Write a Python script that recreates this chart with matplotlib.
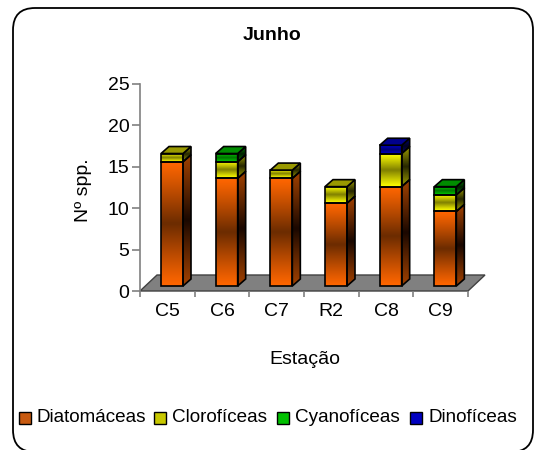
import matplotlib.pyplot as plt
import numpy as np
from matplotlib.patches import Polygon, Rectangle, FancyBboxPatch

plt.rcParams['font.family'] = ['Liberation Sans', 'DejaVu Sans']

estacoes = ['C5', 'C6', 'C7', 'R2', 'C8', 'C9']
grupos = ['Diatomáceas', 'Clorofíceas', 'Cyanofíceas', 'Dinofíceas']
diatomaceas = [15, 13, 13, 10, 12, 9]
cloroficeas = [1, 2, 1, 2, 4, 2]
cyanoficeas = [0, 1, 0, 0, 0, 1]
dinoficeas = [0, 0, 0, 0, 1, 0]
series = [diatomaceas, cloroficeas, cyanoficeas, dinoficeas]

# (claro, escuro) da face frontal, (claro, escuro) da lateral, cor do topo
cores = [
    ((1.0, 0.40, 0.0), (0.42, 0.17, 0.0), (0.62, 0.25, 0.0), (0.10, 0.03, 0.0), (0.55, 0.22, 0.0)),
    ((1.0, 1.0, 0.0), (0.50, 0.50, 0.0), (0.60, 0.60, 0.0), (0.15, 0.15, 0.0), (0.60, 0.60, 0.0)),
    ((0.0, 0.80, 0.0), (0.0, 0.45, 0.0), (0.0, 0.50, 0.0), (0.0, 0.12, 0.0), (0.0, 0.55, 0.0)),
    ((0.0, 0.0, 0.80), (0.0, 0.0, 0.45), (0.0, 0.0, 0.50), (0.0, 0.0, 0.12), (0.0, 0.0, 0.55)),
]
legenda_cores = ['#c85a10', '#c8c800', '#00c000', '#0000c0']
fs = 14
fs_leg = 13.6

W, H = 539, 450
fig = plt.figure(figsize=(W / 100, H / 100), dpi=100)

# moldura arredondada
fig.patches.append(FancyBboxPatch((13, -2), 520, 444, boxstyle='round,pad=0,rounding_size=22',
                                  transform=None, fill=False, ec='black', lw=1.3))

ax = fig.add_axes([140 / W, (H - 291) / H, 328 / W, 207 / H])
ax.set_xlim(0, 6)
ax.set_ylim(0, 25)
ux = 6 / 328   # dados por pixel
uy = 25 / 207


def gradiente(claro, escuro, n=64):
    t = np.linspace(0, 1, n)
    w = (1 - np.abs(2 * t - 1)) ** 1.1
    c = np.array(claro)[None, :] * (1 - w[:, None]) + np.array(escuro)[None, :] * w[:, None]
    return c[:, None, :]


# piso cinzento
dfx, dfy = 17 * ux, 16 * uy
ax.add_patch(Polygon([(0, 0), (6, 0), (6 + dfx, dfy), (dfx, dfy)], closed=True,
                     fc='#808080', ec='#404040', lw=1, clip_on=False, zorder=1))

x_off, largura = 21 * ux, 22 * ux
dx, dy = 8 * ux, 7 * uy
base = 5 * uy

for i in range(len(estacoes)):
    x0 = i + x_off
    x1 = x0 + largura
    y = base
    topo = None
    for s, vals in enumerate(series):
        v = vals[i]
        if v == 0:
            continue
        fc, fe, sc, se, tc = cores[s]
        y0, y1 = y, y + v
        ax.imshow(gradiente(fc, fe), extent=(x0, x1, y0, y1), aspect='auto', zorder=3,
                  interpolation='bilinear')
        ax.add_patch(Rectangle((x0, y0), largura, v, fill=False, ec='black', lw=1.2, zorder=4))
        lado = Polygon([(x1, y0), (x1 + dx, y0 + dy), (x1 + dx, y1 + dy), (x1, y1)], closed=True,
                       fill=False, ec='black', lw=1.2, zorder=4)
        im = ax.imshow(gradiente(sc, se), extent=(x1, x1 + dx, y0, y1 + dy), aspect='auto',
                       zorder=3, interpolation='bilinear')
        ax.add_patch(lado)
        im.set_clip_path(lado)
        y = y1
        topo = tc
    ax.add_patch(Polygon([(x0, y), (x1, y), (x1 + dx, y + dy), (x0 + dx, y + dy)], closed=True,
                         fc=topo, ec='black', lw=1.2, zorder=4))

ax.set_xlim(0, 6)
ax.set_ylim(0, 25)
for lado in ['top', 'right', 'bottom']:
    ax.spines[lado].set_visible(False)
ax.spines['left'].set_color('#808080')
ax.spines['left'].set_linewidth(1.2)
ax.set_xticks(range(7))
ax.set_xticklabels([])
ax.set_xticks(np.arange(len(estacoes)) + 0.5, minor=True)
ax.set_xticklabels(estacoes, minor=True, fontsize=fs)
ax.tick_params(axis='x', which='major', length=4.5, width=1.2, color='#808080')
ax.tick_params(axis='x', which='minor', length=0, pad=9)
ax.set_yticks(range(0, 26, 5))
ax.tick_params(axis='y', length=6, width=1.2, color='#808080', pad=1.5, labelsize=fs)
ax.patch.set_alpha(0)

fig.text(272 / W, 1 - 35 / H, 'Junho', fontsize=14, fontweight='bold', ha='center', va='center')
fig.text(84 / W, 1 - 190 / H, 'Nº spp.', fontsize=fs, rotation=90, ha='center', va='center')
fig.text(305 / W, 1 - 360 / H, 'Estação', fontsize=fs, ha='center', va='center')

# legenda
leg_x = [19, 154, 277, 410]
for nome, cor, lx in zip(grupos, legenda_cores, leg_x):
    fig.patches.append(Rectangle((lx, H - 424), 12, 12, transform=None, fc=cor, ec='black', lw=1))
    fig.text((lx + 18) / W, 1 - 418 / H, nome, fontsize=fs_leg, ha='left', va='center')

fig.savefig('out.png', dpi=100)
